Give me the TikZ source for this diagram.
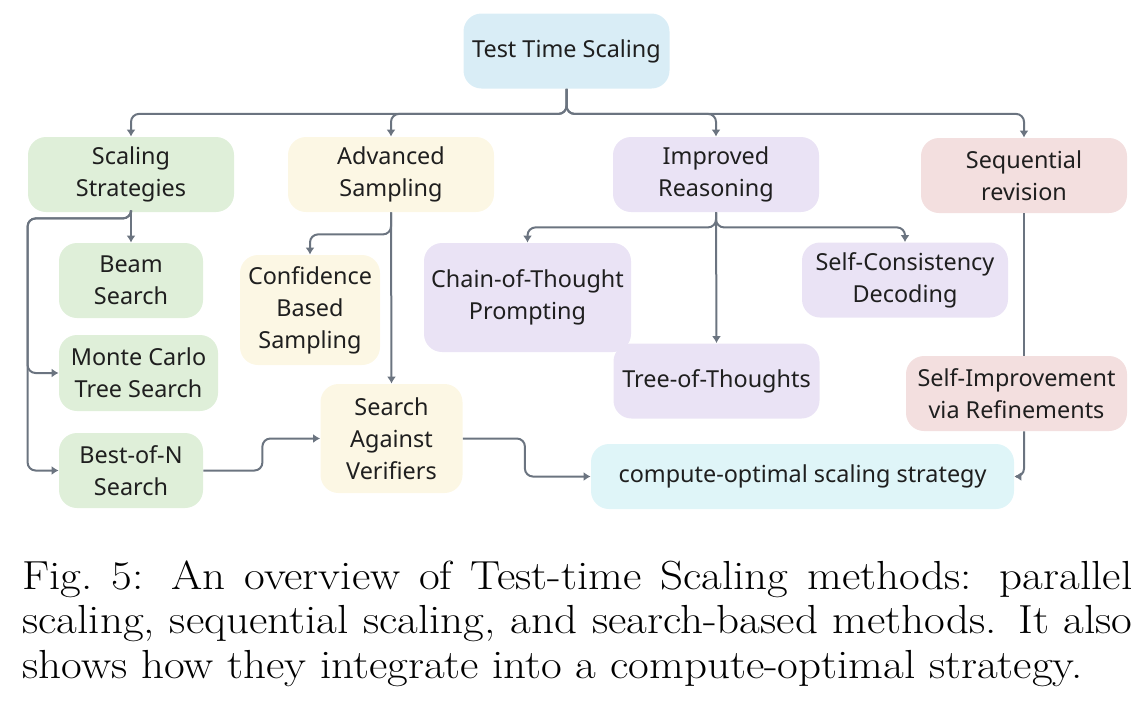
\documentclass[tikz,border=0pt]{standalone}
\usepackage{fontspec}
\setsansfont{Noto Sans}
\usetikzlibrary{arrows.meta,positioning,calc}
\definecolor{ink}{HTML}{6B7480}
\definecolor{skyfill}{HTML}{D9EDF6}
\definecolor{leaf}{HTML}{DFEFD9}
\definecolor{cream}{HTML}{FCF7E4}
\definecolor{lilac}{HTML}{EAE3F5}
\definecolor{blush}{HTML}{F3DFDF}
\definecolor{aqua}{HTML}{DFF5F8}

\begin{document}
\begin{tikzpicture}[x=0.5pt,y=-0.5pt,
  box/.style={rounded corners=9pt,align=center,inner sep=0pt,
    font=\sffamily\fontsize{11.7}{16}\selectfont,text=black!88},
  wide/.style={box,minimum width=103pt,minimum height=37.5pt},
  arr/.style={-{Latex[length=3.5pt,width=4.5pt]},line width=1pt,draw=ink,rounded corners=4pt},
  lnk/.style={line width=1pt,draw=ink}]
\useasboundingbox (0,0) rectangle (1144,714);
% top level
\node[wide,fill=skyfill] (tts) at (566.5,51) {Test Time Scaling};
\node[wide,fill=leaf] (ss) at (131,174.5) {Scaling\\Strategies};
\node[wide,fill=cream] (as) at (391,174.5) {Advanced\\Sampling};
\node[wide,fill=lilac] (ir) at (716,174.5) {Improved\\Reasoning};
\node[wide,fill=blush] (sr) at (1024,175.5) {Sequential\\revision};
% scaling strategies
\node[box,fill=leaf,minimum width=72pt,minimum height=37.5pt] (beam) at (131,280.5) {Beam\\Search};
\node[box,fill=leaf,minimum width=79.5pt,minimum height=38pt] (mcts) at (138.5,373) {Monte Carlo\\Tree Search};
\node[box,fill=leaf,minimum width=72pt,minimum height=37.5pt] (bon) at (131,470.5) {Best-of-N\\Search};
% sampling
\node[box,fill=cream,minimum width=70pt,minimum height=55pt] (cbs) at (310,310) {Confidence\\Based\\Sampling};
\node[box,fill=cream,minimum width=71pt,minimum height=54.5pt] (sav) at (391.5,438.5) {Search\\Against\\Verifiers};
% reasoning
\node[box,fill=lilac,minimum width=103.5pt,minimum height=54.5pt] (cot) at (527.5,297.5) {Chain-of-Thought\\Prompting};
\node[wide,fill=lilac] (tot) at (716.5,381) {Tree-of-Thoughts};
\node[wide,fill=lilac] (scd) at (905,280) {Self-Consistency\\Decoding};
% revision
\node[box,fill=blush,minimum width=110.5pt,minimum height=37.5pt] (si) at (1016.5,393.5) {Self-Improvement\\via Refinements};
\node[box,fill=aqua,minimum width=211.5pt,minimum height=32.5pt] (cos) at (802.5,476.5) {compute-optimal scaling strategy};

\foreach \k in {ss,as,ir,sr}
  \draw[arr] (tts.south) -- ++(0,25) -| (\k.north);
\draw[arr] (ss.south) -- (beam.north);
\draw[arr] (ss.south) -- ++(0,6) -| (ss.west |- mcts.west) -- (mcts.west);
\draw[arr] (ss.south) -- ++(0,6) -| (ss.west |- bon.west) -- (bon.west);
\draw[arr] (as.south) -- ++(0,22) -| (cbs.north);
\draw[arr] (as.south) -- (sav.north);
\draw[arr] (ir.south) -- ++(0,15) -| (cot.north);
\draw[arr] (ir.south) -- ++(0,15) -| (scd.north);
\draw[arr] (ir.south) -- (tot.north);
\draw[lnk] (sr.south) -- (sr.south |- si.north);
\draw[arr] (sr.south |- si.south) |- (cos.east);
\draw[arr] (bon.east) -- ++(59,0) |- (sav.west);
\draw[arr] (sav.east) -- ++(62,0) |- (cos.west);

% caption, a little wider than set
\node[anchor=north west,inner sep=0pt] (cap) at (22,560)
  {\scalebox{1.11}[1]{\parbox{500pt}{\fontsize{20.3}{22.25}\selectfont
   Fig.~5: An overview of Test-time Scaling methods: parallel\linebreak
   scaling, sequential scaling, and search-based methods. It also\linebreak
   shows how they integrate into a compute-optimal strategy.}}};
\end{tikzpicture}
\end{document}
